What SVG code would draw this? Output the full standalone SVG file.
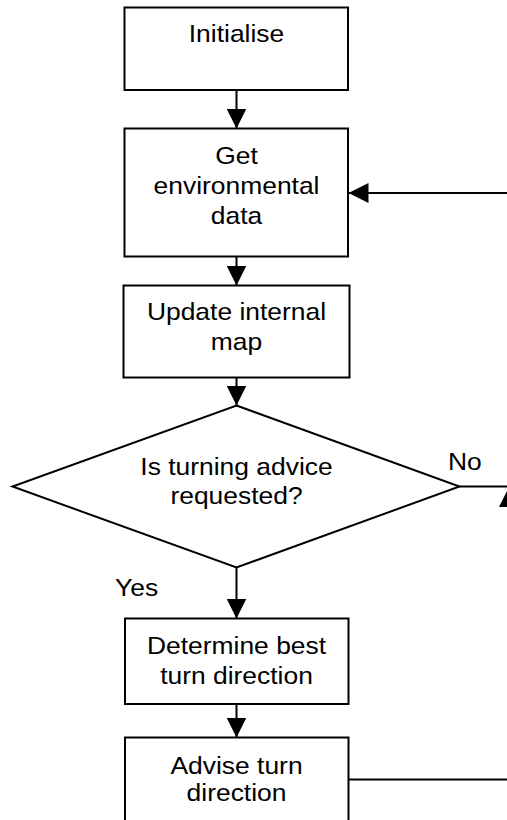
<svg xmlns="http://www.w3.org/2000/svg" width="507" height="820" viewBox="0 0 507 820">
<style>
.box{fill:#fff;stroke:#000;stroke-width:2}
.con{fill:none;stroke:#000;stroke-width:2}
text{font-family:"Liberation Sans",Arial,sans-serif;font-size:23.6px;fill:#000;text-anchor:middle}
.lbl{text-anchor:start}
</style>
<defs>
<marker id="arr" markerUnits="userSpaceOnUse" markerWidth="20" markerHeight="20" refX="20" refY="10" orient="auto"><path d="M0,0 L20,10 L0,20 z" fill="#000"/></marker>
</defs>
<rect width="507" height="820" fill="#fff"/>
<g id="connectors">
<line class="con" x1="236.5" y1="90" x2="236.5" y2="128.5" marker-end="url(#arr)"/>
<line class="con" x1="236.5" y1="256.5" x2="236.5" y2="285.5" marker-end="url(#arr)"/>
<line class="con" x1="236.5" y1="377.5" x2="236.5" y2="405.5" marker-end="url(#arr)"/>
<line class="con" x1="236.5" y1="567.5" x2="236.5" y2="618.5" marker-end="url(#arr)"/>
<line class="con" x1="236.5" y1="704" x2="236.5" y2="737.5" marker-end="url(#arr)"/>
<path class="con" d="M348.5,779.5 H509 V487" marker-end="url(#arr)"/>
<path class="con" d="M459.5,486.5 H509 V193 H348.5" marker-end="url(#arr)"/>
<text class="lbl" transform="translate(448,470) scale(1.12,1)">No</text>
<text class="lbl" transform="translate(115,596) scale(1.12,1)">Yes</text>
</g>
<g id="initialise">
<rect class="box" x="124.5" y="7.5" width="223.5" height="82.5"/>
<text transform="translate(236.5,41.7) scale(1.12,1)">Initialise</text>
</g>
<g id="get-data">
<rect class="box" x="124.5" y="128.5" width="223.5" height="128"/>
<text transform="translate(236.5,163.8) scale(1.12,1)">Get</text>
<text transform="translate(236.5,193.8) scale(1.12,1)">environmental</text>
<text transform="translate(236.5,223.8) scale(1.12,1)">data</text>
</g>
<g id="update-map">
<rect class="box" x="123.5" y="285.5" width="226" height="92"/>
<text transform="translate(236.5,320.3) scale(1.12,1)">Update internal</text>
<text transform="translate(236.5,349.6) scale(1.12,1)">map</text>
</g>
<g id="decision">
<polygon class="box" points="236.5,405.5 459.5,486.5 236.5,567.5 12.5,486.5"/>
<text transform="translate(236.5,475.3) scale(1.12,1)">Is turning advice</text>
<text transform="translate(236.5,504.3) scale(1.12,1)">requested?</text>
</g>
<g id="determine">
<rect class="box" x="125" y="618.5" width="223.5" height="85.5"/>
<text transform="translate(236.5,654.3) scale(1.12,1)">Determine best</text>
<text transform="translate(236.5,683.8) scale(1.12,1)">turn direction</text>
</g>
<g id="advise">
<rect class="box" x="125" y="737.5" width="223.5" height="100"/>
<text transform="translate(236.5,773.8) scale(1.12,1)">Advise turn</text>
<text transform="translate(236.5,801.3) scale(1.12,1)">direction</text>
</g>
</svg>
